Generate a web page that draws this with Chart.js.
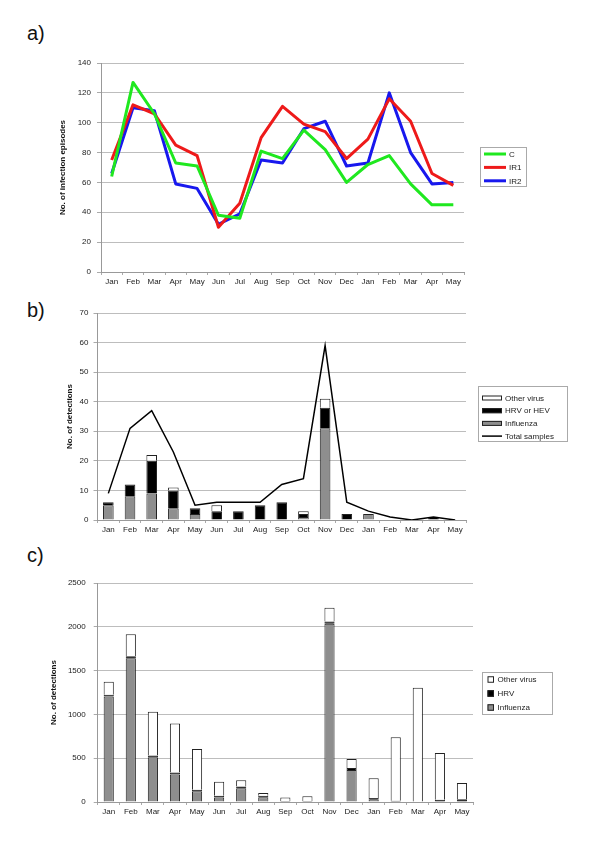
<!DOCTYPE html>
<html>
<head>
<meta charset="utf-8">
<script src="https://cdn.jsdelivr.net/npm/chart.js@4.4.0/dist/chart.umd.min.js"></script>
<style>
  body { margin: 0; background: #fff; }
  #wrap { position: relative; width: 600px; height: 843px; background: #fff; }
  canvas { position: absolute; left: 0; }
  .lab { position: absolute; font: 20px Arial, "Liberation Sans", sans-serif; line-height: 20px; color: #111; }
</style>
</head>
<body>
<div id="wrap">
  <div class="lab" style="left:27px;top:23px">a)</div>
  <div class="lab" style="left:27px;top:300px">b)</div>
  <div class="lab" style="left:27px;top:545px">c)</div>
  <canvas id="chart-a" width="600" height="290" style="top:0px"></canvas>
  <canvas id="chart-b" width="600" height="260" style="top:290px"></canvas>
  <canvas id="chart-c" width="600" height="293" style="top:550px"></canvas>
</div>
<script>
// Data =========================================================
const months = ["Jan", "Feb", "Mar", "Apr", "May", "Jun", "Jul", "Aug", "Sep", "Oct", "Nov", "Dec", "Jan", "Feb", "Mar", "Apr", "May"];

// a) infection episodes
const episodesC = [64, 127, 106, 73, 71, 38, 36, 81, 76, 95, 82, 60, 72, 78, 59, 45, 45];
const episodesIR1 = [75, 112, 106, 85, 78, 30, 46, 90, 111, 99, 94, 76, 89, 116, 101, 66, 58];
const episodesIR2 = [66, 110, 108, 59, 56, 32, 39, 75, 73, 96, 101, 71, 73, 120, 80, 59, 60];

// b) detections in study samples
const influenzaB = [5, 8, 9, 4, 2, 0, 0, 0, 0, 1, 31, 0, 2, 0, 0, 0, 0];
const hrvHevB = [1, 4, 11, 6, 2, 3, 3, 5, 6, 1, 7, 2, 0, 0, 0, 1, 0];
const otherB = [0, 0, 2, 1, 0, 2, 0, 0, 0, 1, 3, 0, 0, 0, 0, 0, 0];
const totalSamplesB = [9, 31, 37, 23, 5, 6, 6, 6, 12, 14, 59, 6, 3, 1, 0, 1, 0];

// c) detections (national)
const influenzaC = [1205, 1640, 510, 315, 122, 50, 156, 53, 0, 0, 2035, 366, 27, 0, 0, 5, 5];
const hrvC = [20, 25, 20, 22, 18, 20, 22, 18, 10, 12, 25, 22, 19, 15, 6, 20, 25];
const otherC = [147, 250, 500, 558, 466, 162, 70, 32, 40, 53, 157, 103, 224, 724, 1297, 535, 187];

// Shared styling ================================================
const FONT = "Arial, 'Liberation Sans', sans-serif";
const GREY = "#8e8e8e";
Chart.defaults.font.family = FONT;
Chart.defaults.font.size = 8;
Chart.defaults.color = "#222";

// legend drawn inside a grey box at fixed spot
const boxLegend = {
  id: "boxLegend",
  afterDraw(chart, args, o) {
    const ctx = chart.ctx;
    ctx.save();
    ctx.strokeStyle = "#aaa";
    ctx.lineWidth = 1;
    ctx.strokeRect(o.x + 0.5, o.y + 0.5, o.w, o.h);
    ctx.font = "8px " + FONT;
    ctx.textBaseline = "middle";
    ctx.fillStyle = "#222";
    o.order.forEach((di, k) => {
      const ds = chart.data.datasets[di];
      const y = o.firstY + k * o.rowH;
      const kind = ds.type === "line" || chart.config.type === "line" ? "line" : o.kind;
      if (kind === "line") {
        ctx.strokeStyle = ds.borderColor;
        ctx.lineWidth = ds.borderWidth;
        ctx.beginPath();
        ctx.moveTo(o.sx, y);
        ctx.lineTo(o.sx + o.sw, y);
        ctx.stroke();
      } else {
        ctx.fillStyle = ds.backgroundColor;
        ctx.fillRect(o.sx, y - o.sh / 2, o.sw, o.sh);
        ctx.strokeStyle = "#222";
        ctx.lineWidth = 1;
        ctx.strokeRect(o.sx + 0.5, y - o.sh / 2 + 0.5, o.sw - 1, o.sh - 1);
      }
      ctx.fillStyle = "#222";
      ctx.fillText(ds.label, o.tx, y + 0.5);
    });
    ctx.restore();
  },
};

function yAxis(max, step, title, width, pad) {
  return {
    min: 0,
    max: max,
    stacked: true,
    ticks: { stepSize: step, padding: pad, callback: (v) => String(v) },
    grid: { color: "#bdbdbd", tickLength: 4, tickColor: "#aaa" },
    border: { display: true, color: "#999" },
    title: { display: true, text: title, font: { size: 8, weight: "bold" }, padding: 0, color: "#111" },
    afterFit: (s) => { s.width = width; },
  };
}

function xAxis() {
  return {
    stacked: true,
    offset: true,
    ticks: { padding: 2, maxRotation: 0, autoSkip: false },
    grid: { offset: true, drawOnChartArea: false, tickLength: 3, tickColor: "#aaa" },
    border: { display: true, color: "#999" },
    afterFit: (s) => { s.height = 16; },
  };
}

const common = {
  responsive: false,
  maintainAspectRatio: false,
  animation: false,
  events: [],
};

// a) ============================================================
new Chart(document.getElementById("chart-a"), {
  type: "line",
  data: {
    labels: months,
    datasets: [
      { label: "C", data: episodesC, borderColor: "#1fe81f", borderWidth: 3 },
      { label: "IR1", data: episodesIR1, borderColor: "#ee1a1a", borderWidth: 3 },
      { label: "IR2", data: episodesIR2, borderColor: "#1818ee", borderWidth: 3 },
    ],
  },
  options: {
    ...common,
    layout: { padding: { left: 58, right: 136, top: 63, bottom: 2 } },
    elements: { point: { radius: 0 }, line: { tension: 0, borderJoinStyle: "round" } },
    scales: {
      x: xAxis(),
      y: { ...yAxis(140, 20, "No. of infection episodes", 43, 6), stacked: false },
    },
    plugins: {
      legend: { display: false },
      tooltip: { enabled: false },
      boxLegend: { x: 480, y: 147, w: 46, h: 39, firstY: 154, rowH: 13.4, sx: 484, sw: 22, tx: 509, order: [0, 1, 2] },
    },
  },
  plugins: [boxLegend],
});

// b) ============================================================
new Chart(document.getElementById("chart-b"), {
  type: "bar",
  data: {
    labels: months,
    datasets: [
      { label: "Influenza", data: influenzaB, backgroundColor: GREY, order: 1 },
      { label: "HRV or HEV", data: hrvHevB, backgroundColor: "#000", order: 1 },
      { label: "Other virus", data: otherB, backgroundColor: "#fff", order: 1 },
      {
        type: "line", label: "Total samples", data: totalSamplesB, stack: "total",
        borderColor: "#000", borderWidth: 1.5, pointRadius: 0, tension: 0, order: 0,
      },
    ],
  },
  options: {
    ...common,
    layout: { padding: { left: 65, right: 134, top: 23, bottom: 14 } },
    datasets: { bar: { borderColor: "#222", borderWidth: 1, categoryPercentage: 1, barPercentage: 0.49 } },
    scales: {
      x: xAxis(),
      y: yAxis(70, 10, "No. of detections", 32.5, 5),
    },
    plugins: {
      legend: { display: false },
      tooltip: { enabled: false },
      boxLegend: { x: 478, y: 96, w: 89, h: 55, firstY: 108, rowH: 12.7, sx: 482, sw: 20, sh: 5, tx: 505, kind: "rect", order: [2, 1, 0, 3] },
    },
  },
  plugins: [boxLegend],
});

// c) ============================================================
new Chart(document.getElementById("chart-c"), {
  type: "bar",
  data: {
    labels: months,
    datasets: [
      { label: "Influenza", data: influenzaC, backgroundColor: GREY },
      { label: "HRV", data: hrvC, backgroundColor: "#000" },
      { label: "Other virus", data: otherC, backgroundColor: "#fff" },
    ],
  },
  options: {
    ...common,
    layout: { padding: { left: 49, right: 127, top: 33, bottom: 25 } },
    datasets: { bar: { borderColor: "#222", borderWidth: 1, categoryPercentage: 1, barPercentage: 0.46 } },
    scales: {
      x: xAxis(),
      y: yAxis(2500, 500, "No. of detections", 48.7, 8),
    },
    plugins: {
      legend: { display: false },
      tooltip: { enabled: false },
      boxLegend: { x: 482, y: 122, w: 70, h: 42, firstY: 129.5, rowH: 14, sx: 487.5, sw: 6.5, sh: 6.5, tx: 497.5, kind: "rect", order: [2, 1, 0] },
    },
  },
  plugins: [boxLegend],
});
</script>
</body>
</html>
